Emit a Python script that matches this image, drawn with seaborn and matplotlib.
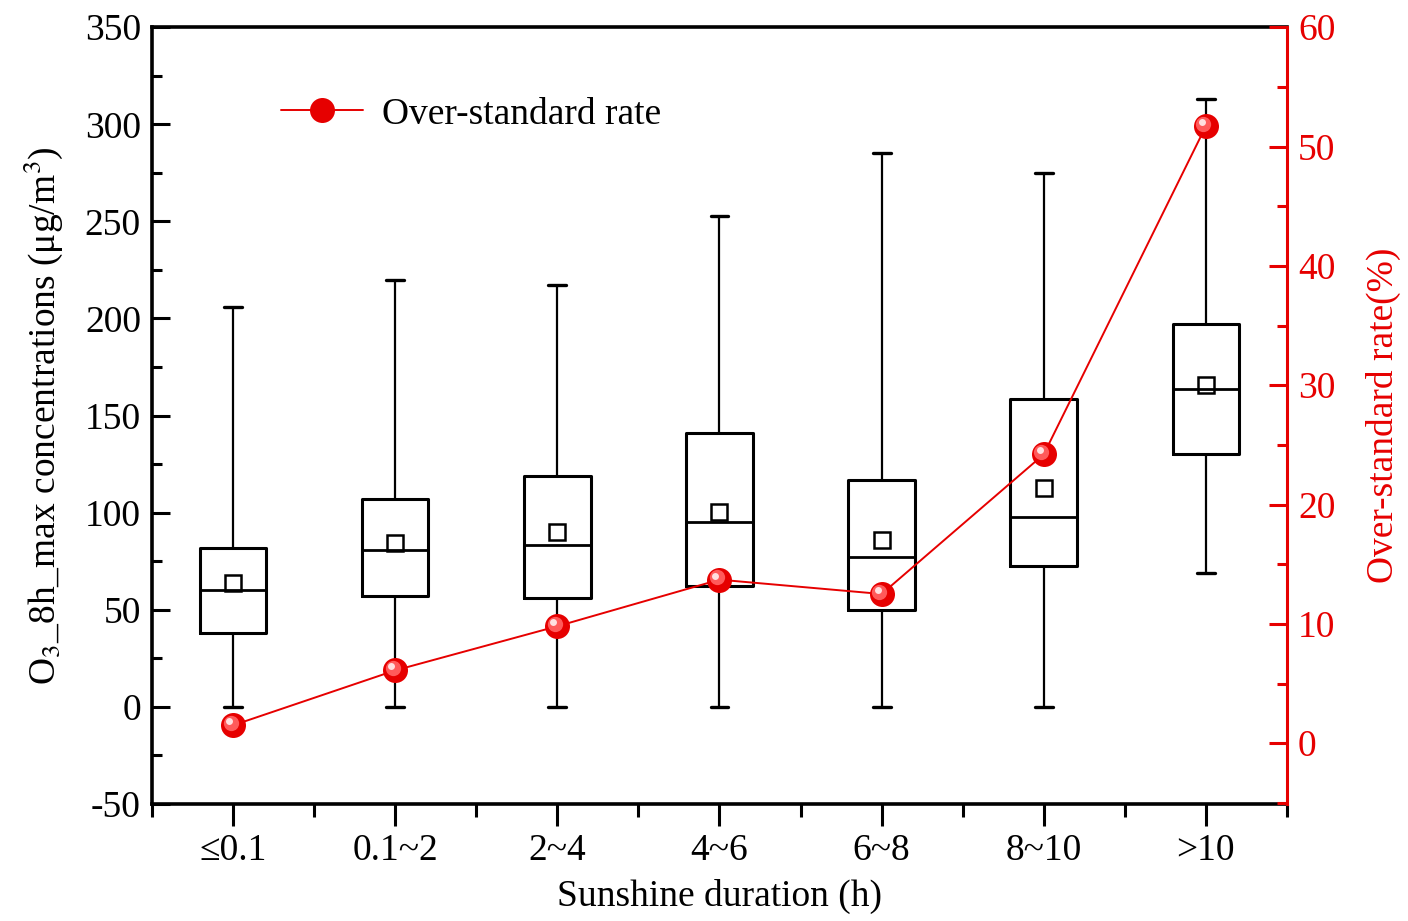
import numpy as np
import pandas as pd
import matplotlib
matplotlib.use("Agg")
import matplotlib.pyplot as plt
import matplotlib.transforms as mtransforms
from matplotlib.lines import Line2D
from matplotlib.ticker import MultipleLocator, FixedLocator
import seaborn as sns

# box statistics (ug/m3)
categories = ["≤0.1", "0.1~2", "2~4", "4~6", "6~8", "8~10", ">10"]
whisker_low = [0, 0, 0, 0, 0, 0, 69]
q1 = [38.0, 57.0, 56.0, 62.5, 50.0, 72.5, 130.0]
median = [60.0, 81.0, 83.5, 95.0, 77.0, 98.0, 163.5]
q3 = [82.0, 107.0, 119.0, 141.0, 117.0, 158.5, 197.0]
whisker_high = [206, 220, 217, 253, 285, 275, 313]
means = [64.0, 84.5, 90.0, 100.5, 86.0, 112.5, 165.5]

# over-standard rate (%)
over_rate = [1.5, 6.1, 9.8, 13.7, 12.5, 24.2, 51.7]

sns.set_style("ticks")
plt.rcParams["font.family"] = ["Liberation Serif", "DejaVu Serif"]
plt.rcParams["mathtext.fontset"] = "stix"
plt.rcParams["axes.unicode_minus"] = False
for key in ["text.color", "axes.labelcolor", "xtick.color", "ytick.color"]:
    plt.rcParams[key] = "black"

# five numbers per group -> quartiles land exactly on the read values
rows = []
for i, cat in enumerate(categories):
    for v in (whisker_low[i], q1[i], median[i], q3[i], whisker_high[i]):
        rows.append({"Sunshine": cat, "O3": v})
df = pd.DataFrame(rows)

fig = plt.figure(figsize=(14.08, 9.21), dpi=100)
ax = fig.add_axes([0.108, 0.127, 0.806, 0.8435])

sns.boxplot(data=df, x="Sunshine", y="O3", order=categories, whis=(0, 100),
            width=0.41, fill=False, color="black", linewidth=2.2,
            showfliers=False, whiskerprops={"linewidth": 1.6},
            capprops={"linewidth": 2.4}, medianprops={"linewidth": 2.0},
            capwidths=0.11, ax=ax)

sns.pointplot(x=categories, y=means, order=categories, color="black",
              linestyle="none", marker="s", markersize=11, markeredgewidth=1.8,
              errorbar=None, ax=ax)
ax.lines[-1].set_markerfacecolor("none")

ax2 = ax.twinx()
red = "#e60000"
sns.pointplot(x=categories, y=over_rate, order=categories, color=red,
              marker="o", markersize=18, linewidth=1.4, errorbar=None, ax=ax2)
ax2.lines[-1].set_markeredgewidth(0)
# sphere-like highlight on the markers
for size, col, off in [(11, "#ff5a5a", 2.5), (5, "#ffe0e0", 4)]:
    sns.pointplot(x=categories, y=over_rate, order=categories, color=col,
                  linestyle="none", marker="o", markersize=size, errorbar=None, ax=ax2)
    ln = ax2.lines[-1]
    ln.set_markeredgewidth(0)
    ln.set_transform(mtransforms.offset_copy(ax2.transData, fig=fig, x=-off, y=off, units="dots"))

ax.set_xlim(-0.5, 6.5)
ax.set_ylim(-50, 350)
ax2.set_ylim(-5.1, 60)

fs = 27
ax.yaxis.set_major_locator(MultipleLocator(50))
ax.yaxis.set_minor_locator(MultipleLocator(25))
ax.xaxis.set_minor_locator(FixedLocator(np.arange(-0.5, 7, 1)))
ax.tick_params(axis="y", which="major", direction="in", length=13, width=2.2, labelsize=fs, pad=8)
ax.tick_params(axis="y", which="minor", direction="in", length=7, width=2.2)
ax.tick_params(axis="x", which="major", direction="out", length=16, width=2.2, labelsize=fs, pad=5)
ax.tick_params(axis="x", which="minor", direction="out", length=9, width=2.2)
ax.tick_params(right=False, top=False, which="both")

ax2.yaxis.set_major_locator(MultipleLocator(10))
ax2.yaxis.set_minor_locator(MultipleLocator(5))
ax2.tick_params(axis="y", which="major", direction="in", length=13, width=2.2,
                labelsize=fs, colors=red, pad=8)
ax2.tick_params(axis="y", which="minor", direction="in", length=7, width=2.2, colors=red)

for side in ["left", "bottom", "top"]:
    ax.spines[side].set_visible(True)
    ax.spines[side].set_linewidth(2.6)
    ax.spines[side].set_color("black")
ax.spines["right"].set_visible(False)
for side in ["left", "bottom", "top"]:
    ax2.spines[side].set_visible(False)
ax2.spines["right"].set_visible(True)
ax2.spines["right"].set_color(red)
ax2.spines["right"].set_linewidth(2.2)

ax.set_xlabel("Sunshine duration (h)", fontsize=fs, labelpad=8)
ax.set_ylabel("O$_3$_8h_max concentrations (μg/m$^3$)", fontsize=fs, labelpad=14)
ax2.set_ylabel("Over-standard rate(%)", fontsize=fs, color=red, labelpad=22)

handle = Line2D([], [], color=red, linewidth=1.4, marker="o", markersize=18,
                markeredgewidth=0)
ax2.legend(handles=[handle], labels=["Over-standard rate"], loc="upper left",
           bbox_to_anchor=(0.186, 0.915), bbox_transform=fig.transFigure,
           frameon=False, fontsize=fs, handlelength=2.2, handletextpad=0.5,
           borderpad=0)

fig.savefig("out.png", dpi=100)
